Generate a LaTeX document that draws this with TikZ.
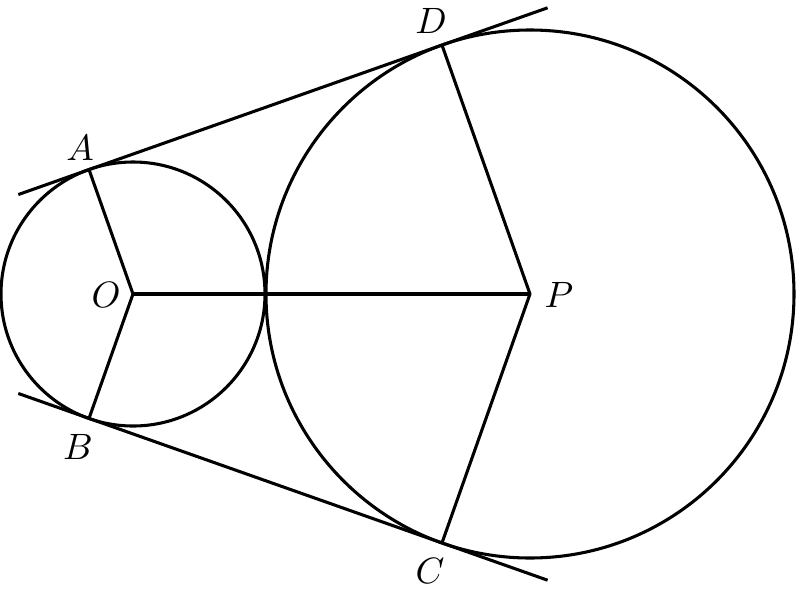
\documentclass[tikz,border=0pt]{standalone}
\begin{document}
\begin{tikzpicture}[x=0.75pt,y=-0.75pt,
  geo/.style={line width=2.3pt,line join=round},
  lbl/.style={scale=2.75,inner sep=0pt}]
\useasboundingbox (0,0) rectangle (797,590);
\coordinate (O) at (133,294);
\coordinate (P) at (530,294);
\coordinate (A) at (89,169.55);
\coordinate (D) at (442,45.1);
\coordinate (B) at (89,418.45);
\coordinate (C) at (442,542.9);
\coordinate (t1) at (18.3,194.55);
\coordinate (t2) at (547.6,7.8);
\coordinate (b1) at (18.3,393.45);
\coordinate (b2) at (547.6,580.2);
\draw[geo] (O) circle[radius=132*0.75pt];
\draw[geo] (P) circle[radius=264*0.75pt];
\draw[geo] (t1) -- (t2);
\draw[geo] (b1) -- (b2);
\draw[geo] (A) -- (O) -- (B);
\draw[geo] (D) -- (P) -- (C);
\draw[geo] (O) -- (P);
\node[lbl] (lA) at (80,148) {$A$};
\node[lbl] (lD) at (431,21) {$D$};
\node[lbl] (lO) at (106,295) {$O$};
\node[lbl] (lP) at (559,295) {$P$};
\node[lbl] (lB) at (78,447) {$B$};
\node[lbl] (lC) at (430,571) {$C$};
\end{tikzpicture}
\end{document}
